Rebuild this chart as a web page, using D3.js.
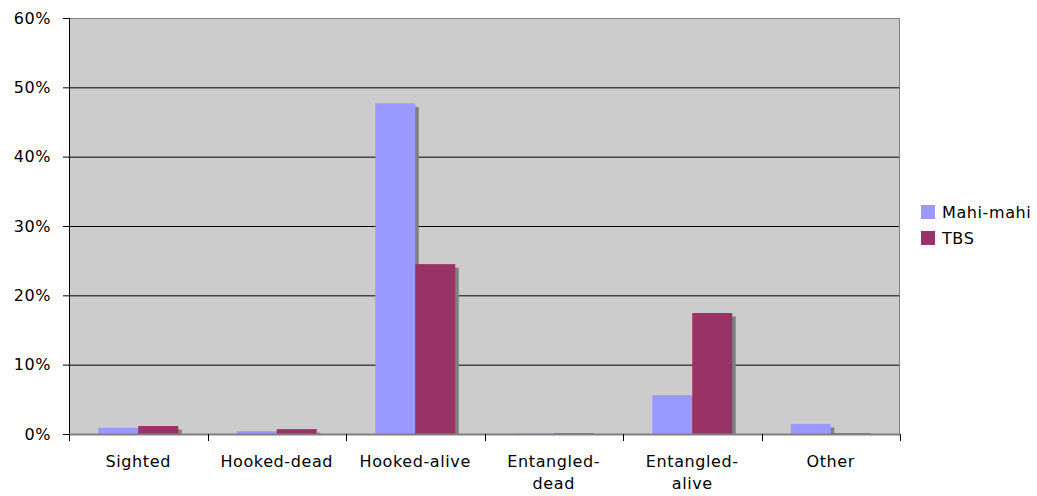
<!DOCTYPE html>
<html><head><meta charset="utf-8">
<script src="https://cdn.jsdelivr.net/npm/d3@7"></script>
<style>body{margin:0;background:#fff}svg{display:block}text{font-family:"DejaVu Sans",Verdana,sans-serif;font-size:16px;letter-spacing:0.6px;fill:#000}</style>
</head><body><svg id="c" width="1037" height="496"></svg>
<script>
const categories = ["Sighted","Hooked-dead","Hooked-alive","Entangled-dead","Entangled-alive","Other"];
const categoryLines = [["Sighted"],["Hooked-dead"],["Hooked-alive"],["Entangled-","dead"],["Entangled-","alive"],["Other"]];
const seriesNames = ["Mahi-mahi","TBS"];
const mahiValues = [0.9, 0.4, 47.7, 0.05, 5.6, 1.45];
const tbsValues = [1.15, 0.7, 24.5, 0.1, 17.45, 0.1];
const yTicks = [0,10,20,30,40,50,60];
const colors = ["#9999FF","#993366"];

const svg = d3.select("#c");
const L=69, R=900, T=18, B=434;
const x = d3.scaleBand().domain(categories).range([L,R]);
const xs = d3.scaleBand().domain(seriesNames).range([0,80]);
const y = d3.scaleLinear().domain([0,60]).range([B,T]);
const bw = x.bandwidth();

svg.append("rect").attr("x",L).attr("y",T).attr("width",R-L).attr("height",B-T).attr("fill","#CCCCCC");
svg.append("g").selectAll("line").data(yTicks.filter(d=>d>0&&d<60)).join("line")
  .attr("x1",L).attr("x2",R).attr("y1",d=>y(d)+0.5).attr("y2",d=>y(d)+0.5).attr("stroke","#000");
svg.append("line").attr("x1",L).attr("x2",R).attr("y1",T+0.5).attr("y2",T+0.5).attr("stroke","#808080");
svg.append("line").attr("x1",R-0.5).attr("x2",R-0.5).attr("y1",T).attr("y2",B).attr("stroke","#808080");

const series = [mahiValues,tbsValues];
const g = svg.append("g");
const off = (bw-80)/2;
const data = [];
categories.forEach((c,i)=>seriesNames.forEach((s,j)=>data.push({c,s,v:series[j][i],j})));
g.selectAll("rect.sh").data(data).join("rect").attr("class","sh")
  .attr("x",d=>x(d.c)+off+xs(d.s)+3.5).attr("y",d=>Math.min(y(d.v)+3.5,B))
  .attr("width",xs.bandwidth()).attr("height",d=>Math.max(0,B-(y(d.v)+3.5)))
  .attr("fill","#808080");
g.selectAll("rect.bar").data(data).join("rect").attr("class","bar")
  .attr("x",d=>x(d.c)+off+xs(d.s)).attr("y",d=>y(d.v))
  .attr("width",xs.bandwidth()).attr("height",d=>B-y(d.v))
  .attr("fill",d=>colors[d.j]);

const ya = svg.append("g").attr("transform",`translate(${L},0)`)
  .call(d3.axisLeft(y).tickValues(yTicks).tickFormat(d=>d+"%").tickSize(6).tickPadding(12));
ya.select(".domain").remove();
ya.selectAll("line").attr("stroke","#000");
ya.selectAll("text").attr("fill","#000").attr("font-family",null);
svg.append("line").attr("x1",L+0.5).attr("x2",L+0.5).attr("y1",T).attr("y2",B+1).attr("stroke","#000");
svg.append("line").attr("x1",L).attr("x2",R).attr("y1",B+0.5).attr("y2",B+0.5).attr("stroke","#808080").attr("stroke-width",2);
const bounds = categories.map(c=>x(c)).concat([R]);
svg.append("g").selectAll("line").data(bounds).join("line")
  .attr("x1",d=>Math.round(d)+0.5).attr("x2",d=>Math.round(d)+0.5).attr("y1",B).attr("y2",B+7).attr("stroke","#000");
const xl = svg.append("g");
categories.forEach((c,i)=>{
  const t = xl.append("text").attr("x",x(c)+bw/2).attr("y",467).attr("text-anchor","middle");
  categoryLines[i].forEach((ln,k)=>t.append("tspan").attr("x",x(c)+bw/2).attr("dy",k===0?0:22).text(ln));
});
const lg = svg.append("g").attr("transform","translate(921,205)");
seriesNames.forEach((s,j)=>{
  lg.append("rect").attr("x",0).attr("y",j*26).attr("width",14).attr("height",14).attr("fill",colors[j]);
  lg.append("text").attr("x",21).attr("y",j*26+13).text(s);
});
</script></body></html>
